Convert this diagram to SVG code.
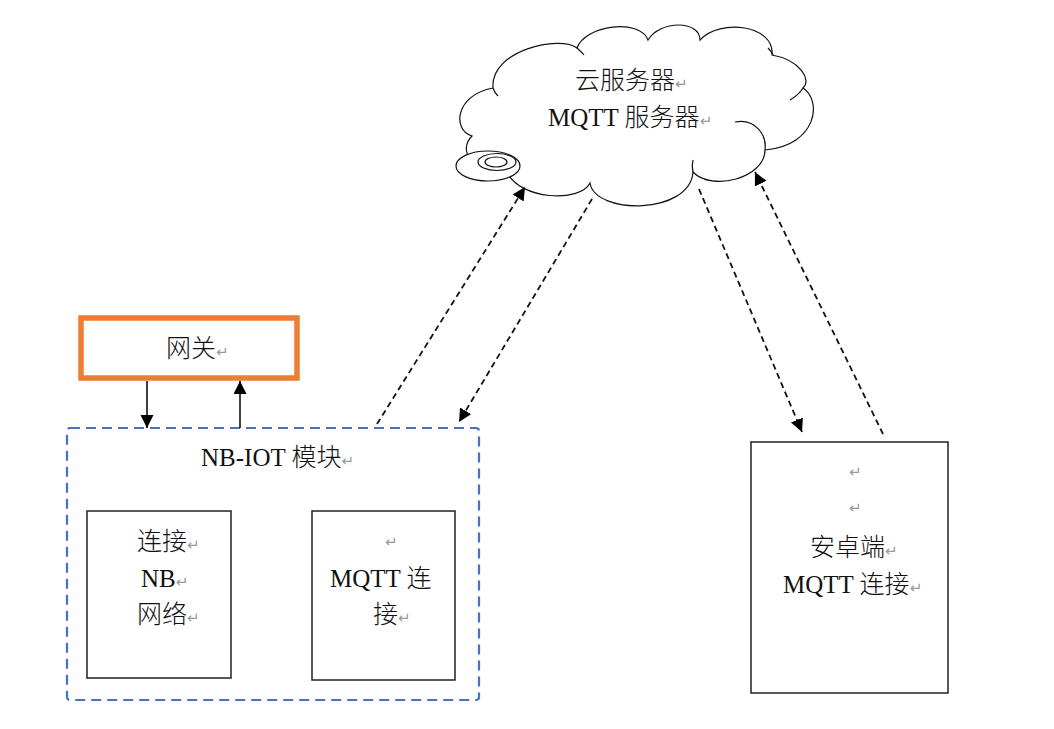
<svg xmlns="http://www.w3.org/2000/svg" width="1054" height="729" viewBox="0 0 1054 729">
<defs>
<style>
.t{font-family:"Liberation Serif","Noto Sans CJK SC",serif;font-size:25px;font-weight:300;fill:#111}
.r{font-family:"DejaVu Sans",sans-serif;font-size:15px;font-weight:400;fill:#999}
.box{fill:#fff;stroke:#222;stroke-width:1.5}
.dl{fill:none;stroke:#111;stroke-width:1.8;stroke-dasharray:6 4}
.sl{fill:none;stroke:#111;stroke-width:1.6}
.cl{fill:none;stroke:#111;stroke-width:1.2}
</style>
<marker id="ah" markerUnits="userSpaceOnUse" markerWidth="14" markerHeight="14" refX="13" refY="6.5" orient="auto">
<path d="M0,0 L13,6.5 L0,13 z" fill="#000"/>
</marker>
</defs>
<rect width="1054" height="729" fill="#fff"/>

<g id="cloud">
<path d="M507,172 C470,172 458,150 472,136 C452,130 455,95 493,88 C490,50 560,35 577,48 C585,25 640,18 648,40 C660,20 700,20 700,40 C720,18 775,25 772,55 C800,60 812,80 803,88 C822,100 818,145 765,150 C765,178 712,192 693,172 C690,215 595,215 590,183 C580,203 520,200 507,172 Z" fill="#fff" stroke="#111" stroke-width="1.2"/>
<path class="cl" d="M735,122 C755,118 767,135 765,150"/>
<path class="cl" d="M577,48 C579,50 582,52 584,55"/>
<path class="cl" d="M803,88 C800,93 795,97 790,100"/>
<path class="cl" d="M768,48 C770,50 772,52 773,55"/>
<path class="cl" d="M493,88 C494,91 496,94 498,96"/>
<path class="cl" d="M693,172 C692,168 692,164 693,160"/>
<ellipse cx="488" cy="166" rx="32" ry="15" fill="#fff" stroke="#111" stroke-width="1.2"/>
<ellipse cx="497" cy="162" rx="19" ry="8.5" fill="#fff" stroke="#111" stroke-width="1.2"/>
<ellipse cx="496" cy="162" rx="11" ry="5" fill="#fff" stroke="#111" stroke-width="1.2"/>
<text class="t" x="575" y="89">云服务器<tspan class="r">↵</tspan></text>
<text class="t" x="548" y="126">MQTT 服务器<tspan class="r">↵</tspan></text>
</g>

<g id="gateway">
<rect x="81" y="318" width="216" height="60" fill="#fff" stroke="#ED7D31" stroke-width="5.5"/>
<text class="t" x="166" y="357">网关<tspan class="r">↵</tspan></text>
</g>

<g id="nbiot">
<rect x="67" y="428" width="412" height="272" rx="3" fill="none" stroke="#4472C4" stroke-width="2.2" stroke-dasharray="10 6"/>
<text class="t" x="201" y="466">NB-IOT 模块<tspan class="r">↵</tspan></text>
</g>

<g id="nbnet">
<rect class="box" x="87" y="511" width="144" height="167"/>
<text class="t" x="137" y="550">连接<tspan class="r">↵</tspan></text>
<text class="t" x="141" y="587">NB<tspan class="r">↵</tspan></text>
<text class="t" x="137" y="623">网络<tspan class="r">↵</tspan></text>
</g>

<g id="mqttconn">
<rect class="box" x="312" y="511" width="143" height="169"/>
<text class="r" x="385" y="547">↵</text>
<text class="t" x="330" y="587">MQTT 连</text>
<text class="t" x="373" y="623">接<tspan class="r">↵</tspan></text>
</g>

<g id="android">
<rect class="box" x="751" y="442" width="197" height="251"/>
<text class="r" x="849" y="477">↵</text>
<text class="r" x="849" y="513">↵</text>
<text class="t" x="810" y="556">安卓端<tspan class="r">↵</tspan></text>
<text class="t" x="783" y="593">MQTT 连接<tspan class="r">↵</tspan></text>
</g>

<g id="connectors">
<path class="sl" d="M147,381 L147,428" marker-end="url(#ah)"/>
<path class="sl" d="M240,428 L240,381" marker-end="url(#ah)"/>
<path class="dl" d="M377,424 L525,187" marker-end="url(#ah)"/>
<path class="dl" d="M592,199 L459,422" marker-end="url(#ah)"/>
<path class="dl" d="M699,189 L802,432" marker-end="url(#ah)"/>
<path class="dl" d="M883,434 L755,172" marker-end="url(#ah)"/>
</g>
</svg>
